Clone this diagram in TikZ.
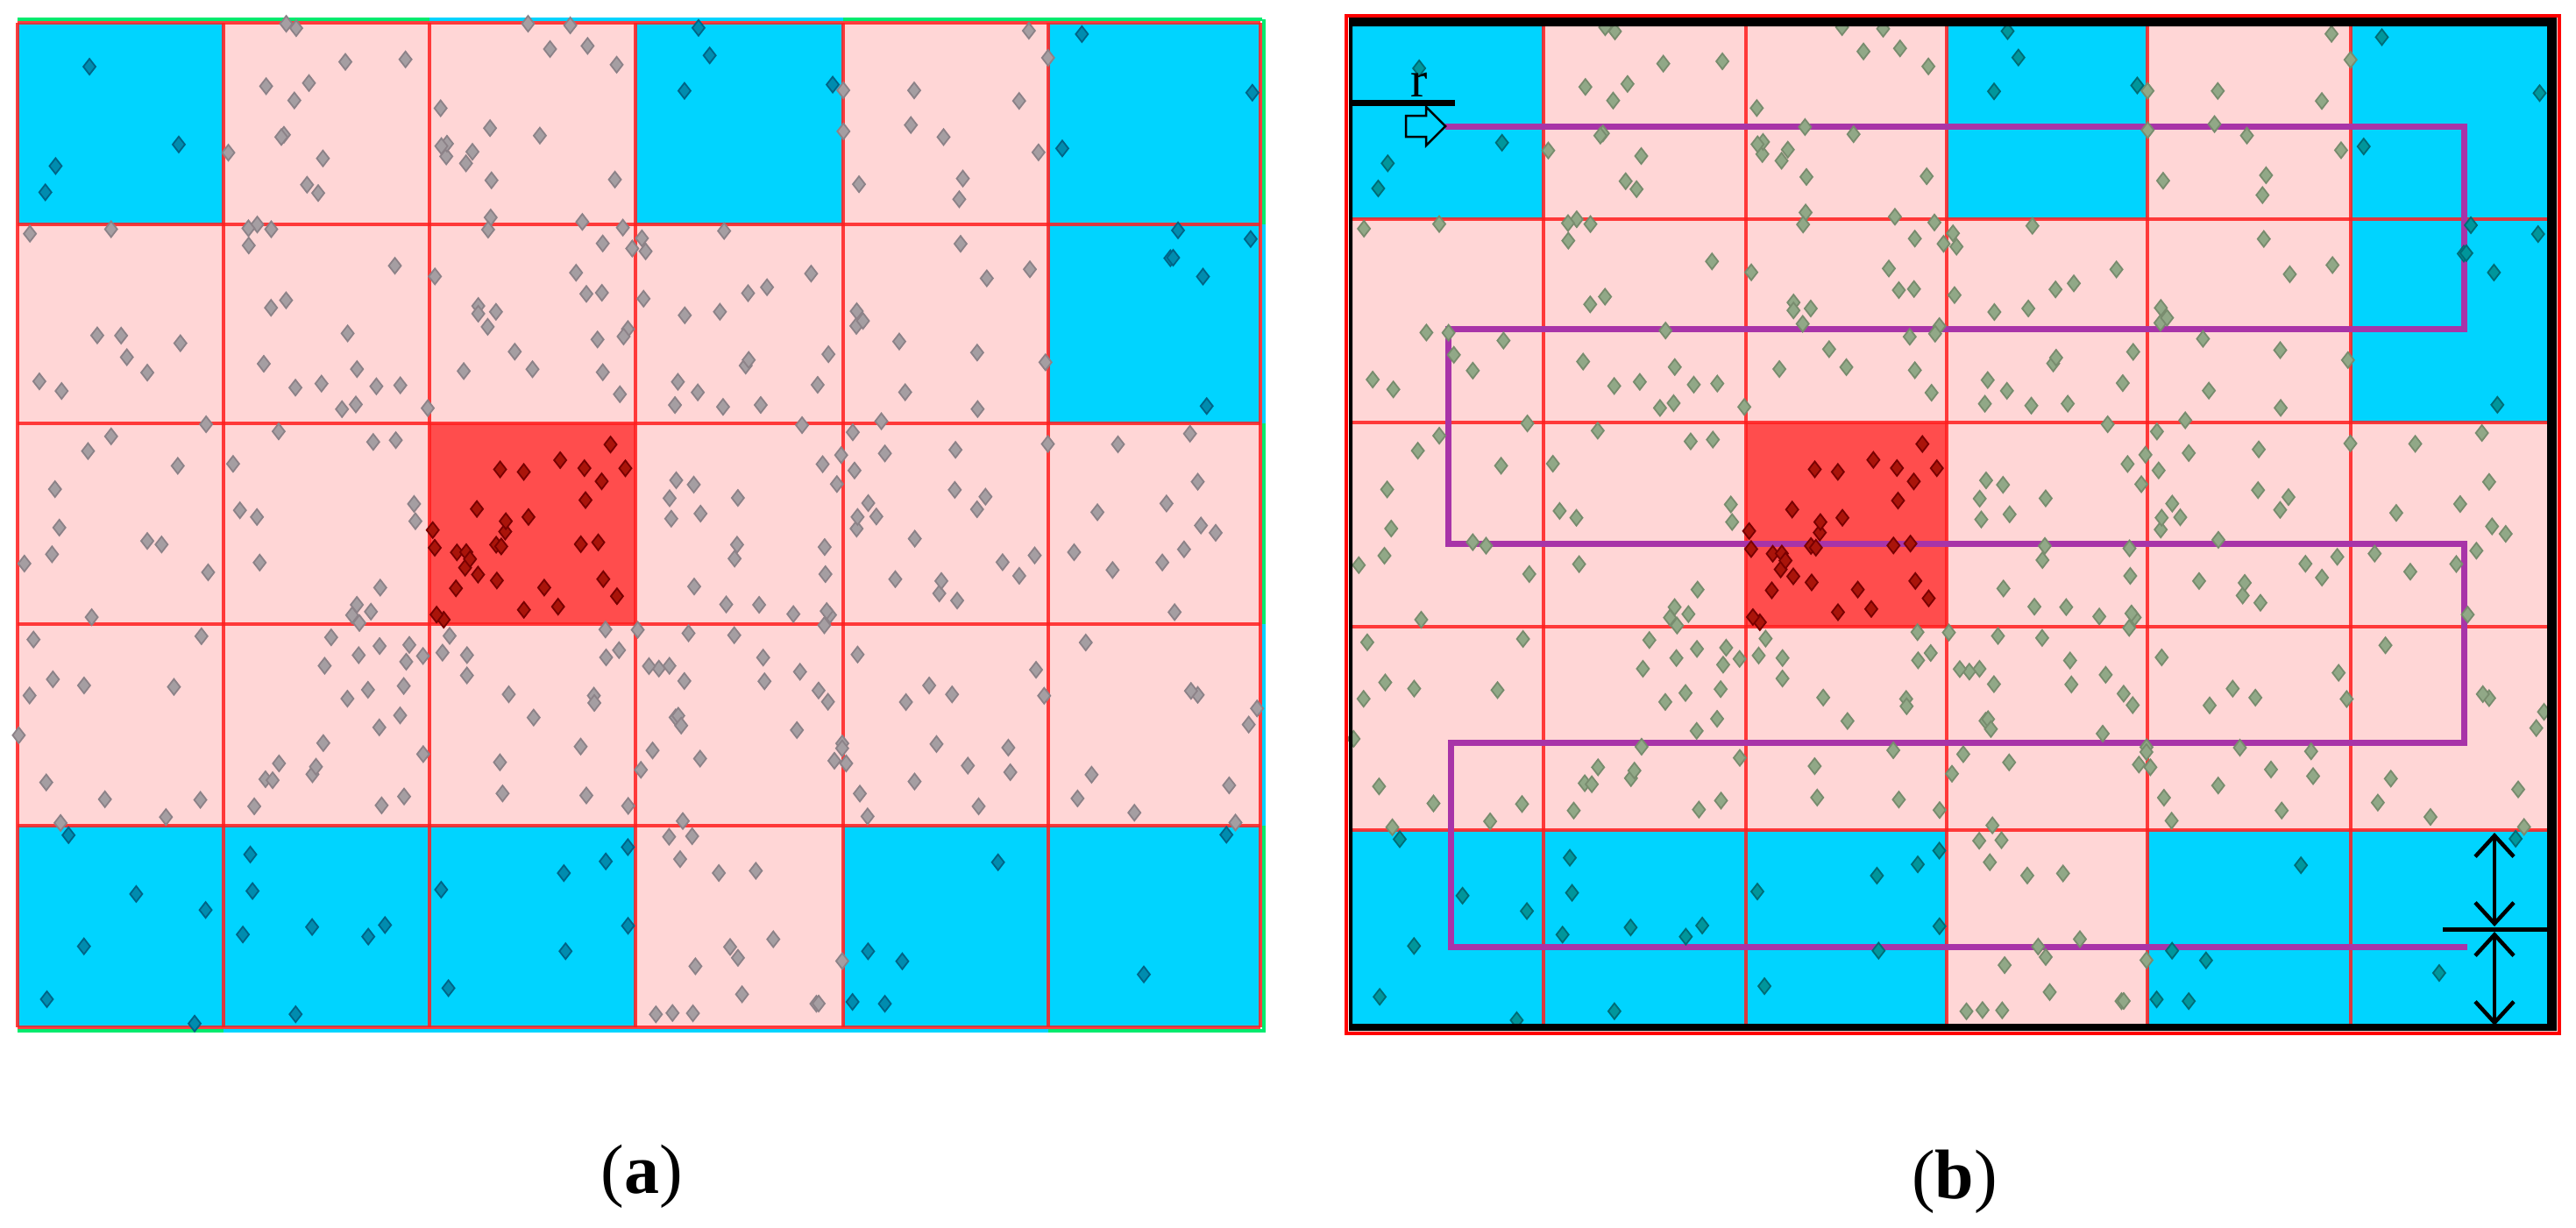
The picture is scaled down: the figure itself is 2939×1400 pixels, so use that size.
\documentclass[tikz,border=0pt]{standalone}
\usepackage{fontspec}
\setmainfont{Liberation Serif}
\usetikzlibrary{arrows.meta}
\definecolor{cyanc}{RGB}{0,212,255}
\definecolor{pinkc}{RGB}{255,214,214}
\definecolor{redc}{RGB}{255,77,77}
\definecolor{gridred}{RGB}{255,30,30}
\definecolor{edgegreen}{RGB}{0,235,110}
\definecolor{pathpurple}{RGB}{168,52,168}
\definecolor{dLPf}{RGB}{165,158,162}\definecolor{dLPd}{RGB}{140,130,136}
\definecolor{dLCf}{RGB}{0,140,175}\definecolor{dLCd}{RGB}{0,100,135}
\definecolor{dRf}{RGB}{170,20,10}\definecolor{dRd}{RGB}{120,0,0}
\definecolor{dRPf}{RGB}{145,168,135}\definecolor{dRPd}{RGB}{120,140,110}
\definecolor{dRCf}{RGB}{0,150,155}\definecolor{dRCd}{RGB}{0,108,118}
\def\XL{{20,255,490,725,962,1196,1438}}
\def\YL{{26,256,483,712,942,1172}}
\def\XR{{1543,1761,1992,2221,2450,2682,2906}}
\def\YR{{30,250,482,715,947,1168}}
\tikzset{
  gridline/.style={draw=gridred, line width=4.5, opacity=0.85},
  pathline/.style={draw=pathpurple, line width=7, line join=miter},
  labeltext/.style={font=\fontsize{80}{96}\selectfont, inner sep=0pt},
  dimarrow/.style={line width=4.5, {Straight Barb[length=24pt,width=44pt]}-{Straight Barb[length=24pt,width=44pt]}}
}
\newcommand\mkdots[5]{%
\foreach \cc/\rr/\nn in {#1}{%
 \foreach \kk in {1,...,\nn}{%
  \pgfmathsetmacro\uu{rnd}%
  \pgfmathsetmacro\vv{rnd}%
  \pgfmathsetmacro\xl{\XL[\cc]+\uu*(\XL[\cc+1]-\XL[\cc])}%
  \pgfmathsetmacro\yl{\YL[\rr]+\vv*(\YL[\rr+1]-\YL[\rr])}%
  \pgfmathsetmacro\xr{\XR[\cc]+\uu*(\XR[\cc+1]-\XR[\cc])}%
  \pgfmathsetmacro\yr{\YR[\rr]+\vv*(\YR[\rr+1]-\YR[\rr])}%
  \path[fill=#2,draw=#3,line width=1.8] (\xl,\yl) ++(0,-9) -- ++(7,9) -- ++(-7,9) -- ++(-7,-9) -- cycle;
  \path[fill=#4,draw=#5,line width=1.8] (\xr,\yr) ++(0,-9) -- ++(7,9) -- ++(-7,9) -- ++(-7,-9) -- cycle;
 }}}
\begin{document}
\begin{tikzpicture}[x=1pt,y=-1pt]
\useasboundingbox (0,0) rectangle (2939,1400);
\fill[white] (0,0) rectangle (2939,1400);
\pgfmathsetseed{4242}
% ---------- cells ----------
\fill[pinkc] (20,26) rectangle (1438,1172);
\fill[pinkc] (1543,30) rectangle (2906,1168);
\foreach \cc/\rr in {0/0,3/0,5/0,5/1,0/4,1/4,2/4,4/4,5/4}{
  \pgfmathsetmacro\xa{\XL[\cc]}\pgfmathsetmacro\xb{\XL[\cc+1]}
  \pgfmathsetmacro\ya{\YL[\rr]}\pgfmathsetmacro\yb{\YL[\rr+1]}
  \fill[cyanc] (\xa,\ya) rectangle (\xb,\yb);
  \pgfmathsetmacro\xa{\XR[\cc]}\pgfmathsetmacro\xb{\XR[\cc+1]}
  \pgfmathsetmacro\ya{\YR[\rr]}\pgfmathsetmacro\yb{\YR[\rr+1]}
  \fill[cyanc] (\xa,\ya) rectangle (\xb,\yb);
}
\fill[redc] (490,483) rectangle (725,712);
\fill[redc] (1992,482) rectangle (2221,715);
% ---------- left grid edges ----------
\draw[edgegreen, line width=4] (20,22) -- (490,22) (962,22) -- (1440,22);
\draw[cyanc, line width=4] (490,22) -- (962,22);
\draw[edgegreen, line width=4] (20,1176) -- (255,1176) (1196,1176) -- (1440,1176);
\draw[cyanc, line width=4] (255,1176) -- (1196,1176);
\draw[edgegreen, line width=4] (1442,22) -- (1442,256) (1442,483) -- (1442,712) (1442,942) -- (1442,1178);
\draw[cyanc, line width=4] (1442,256) -- (1442,483) (1442,712) -- (1442,942);
% ---------- grid lines ----------
\foreach \ii in {0,...,6}{
  \pgfmathsetmacro\xa{\XL[\ii]}
  \draw[gridline] (\xa,26) -- (\xa,1172);
}
\foreach \ii in {0,...,5}{
  \pgfmathsetmacro\ya{\YL[\ii]}
  \draw[gridline] (20,\ya) -- (1438,\ya);
}
\foreach \ii in {1,...,5}{
  \pgfmathsetmacro\xa{\XR[\ii]}
  \draw[gridline] (\xa,30) -- (\xa,1168);
}
\foreach \ii in {1,...,4}{
  \pgfmathsetmacro\ya{\YR[\ii]}
  \draw[gridline] (1543,\ya) -- (2906,\ya);
}
% ---------- serpentine path ----------
\coordinate (pstart) at (1649,144);
\coordinate (pend) at (2815,1080);
\draw[pathline] (pstart) -- (2811,144) -- (2811,375) -- (1652,375) -- (1652,620) -- (2811,620) -- (2811,847) -- (1655,847) -- (1655,1080) -- (pend);
% ---------- dots ----------
\mkdots{1/0/13,2/0/17,4/0/12,0/1/9,1/1/17,2/1/20,3/1/18,4/1/12,0/2/12,1/2/14,3/2/20,4/2/20,5/2/12,0/3/12,1/3/22,2/3/16,3/3/24,4/3/15,5/3/10,3/4/16}{dLPf}{dLPd}{dRPf}{dRPd}
\mkdots{0/0/4,3/0/4,5/0/3,5/1/6,0/4/6,1/4/7,2/4/7,4/4/5,5/4/2}{dLCf}{dLCd}{dRCf}{dRCd}
\mkdots{2/2/32}{dRf}{dRd}{dRf}{dRd}
% ---------- right frame ----------
\fill[black, even odd rule] (1539,20) rectangle (2917,1176) (1543,30) rectangle (2906,1168);
\draw[red, line width=4] (1536,18) rectangle (2920,1179);
% ---------- start marker ----------
\draw[line width=7] (1543,117) -- (1660,117);
\node[anchor=base, font=\fontsize{58}{60}\selectfont, inner sep=0pt] (rlab) at (1619,110) {r};
\draw[black, line width=2.5, fill=cyanc, line join=miter] (1604,132) -- (1627,132) -- (1627,122) -- (pstart) -- (1627,166) -- (1627,156) -- (1604,156) -- cycle;
% ---------- bottom right dimension arrows ----------
\coordinate (ha) at (2787,1060);
\coordinate (hb) at (2906,1060);
\draw[line width=5] (ha) -- (hb);
\coordinate (t1) at (2846,950);
\coordinate (t2) at (2846,1057);
\coordinate (b1) at (2846,1063);
\coordinate (b2) at (2846,1170);
\draw[dimarrow] (t1) -- (t2);
\draw[dimarrow] (b1) -- (b2);
% ---------- captions ----------
\node[labeltext] (capa) at (732,1342) {(\textbf{a})};
\node[labeltext] (capb) at (2230,1348) {(\textbf{b})};
\end{tikzpicture}
\end{document}
